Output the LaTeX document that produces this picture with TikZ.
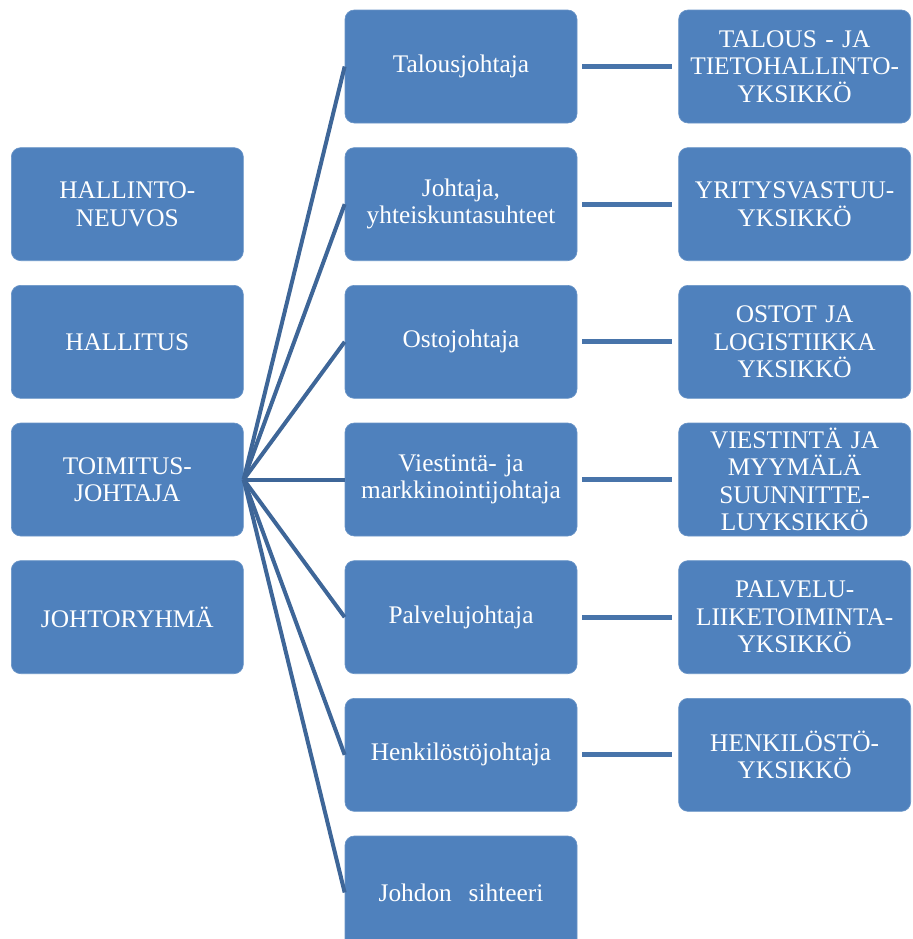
\documentclass[tikz,border=0pt]{standalone}
\usepackage{fontspec}
\setmainfont{Liberation Serif}
\usetikzlibrary{positioning}
\definecolor{boxblue}{HTML}{4F81BD}
\definecolor{fanblue}{HTML}{3E6698}
\definecolor{linkblue}{HTML}{4874AA}
\begin{document}
\begin{tikzpicture}[x=0.75pt,y=-0.75pt,
        unit/.style={fill=boxblue, draw=boxblue!85!white, line width=0.5pt,
            rounded corners=7pt, minimum width=174pt, minimum height=84.75pt,
            text width=172pt, align=center, inner sep=1pt, text=white,
            font=\fontsize{19}{20.6}\selectfont},
        fan/.style={draw=fanblue, line width=3pt},
        link/.style={draw=linkblue, line width=3.6pt},
        node distance=18pt and 75.75pt]
    \useasboundingbox (0,0) rectangle (913,939);

    % johtajat
    \node[unit] (talous) at (461,66.5) {Talousjohtaja};
    \node[unit, below=of talous] (yhteis) {Johtaja,\\yhteiskuntasuhteet};
    \node[unit, below=of yhteis] (osto) {Ostojohtaja};
    \node[unit, below=of osto] (viestinta) {Viestintä- ja\\markkinointijohtaja};
    \node[unit, below=of viestinta] (palvelu) {Palvelujohtaja};
    \node[unit, below=of palvelu] (henkilo) {Henkilöstöjohtaja};
    \node[unit, below=of henkilo] (sihteeri) {Johdon\ \ sihteeri};

    % hallinto
    \node[unit, left=of yhteis] (neuvos) {HALLINTO-\\NEUVOS};
    \node[unit, left=of osto] (hallitus) {HALLITUS};
    \node[unit, left=of viestinta] (toimitus) {TOIMITUS-\\JOHTAJA};
    \node[unit, left=of palvelu] (ryhma) {JOHTORYHMÄ};

    % yksiköt
    \node[unit, right=of talous] (tietoyks) {TALOUS - JA\\TIETOHALLINTO-\\YKSIKKÖ};
    \node[unit, right=of yhteis] (vastuuyks) {YRITYSVASTUU-\\YKSIKKÖ};
    \node[unit, right=of osto] (logyks) {OSTOT JA\\LOGISTIIKKA\\YKSIKKÖ};
    \node[unit, right=of viestinta] (myymyks) {VIESTINTÄ JA\\MYYMÄLÄ\\SUUNNITTE-\\LUYKSIKKÖ};
    \node[unit, right=of palvelu] (palvyks) {PALVELU-\\LIIKETOIMINTA-\\YKSIKKÖ};
    \node[unit, right=of henkilo] (henkyks) {HENKILÖSTÖ-\\YKSIKKÖ};

    \foreach \m in {talous,yhteis,osto,viestinta,palvelu,henkilo,sihteeri}
        \draw[fan] (toimitus.east) -- (\m.west);

    \foreach \m/\u in {talous/tietoyks,yhteis/vastuuyks,osto/logyks,
                       viestinta/myymyks,palvelu/palvyks,henkilo/henkyks}
        \draw[link] ([xshift=3.75pt]\m.east) -- ([xshift=-4.5pt]\u.west);
\end{tikzpicture}
\end{document}
